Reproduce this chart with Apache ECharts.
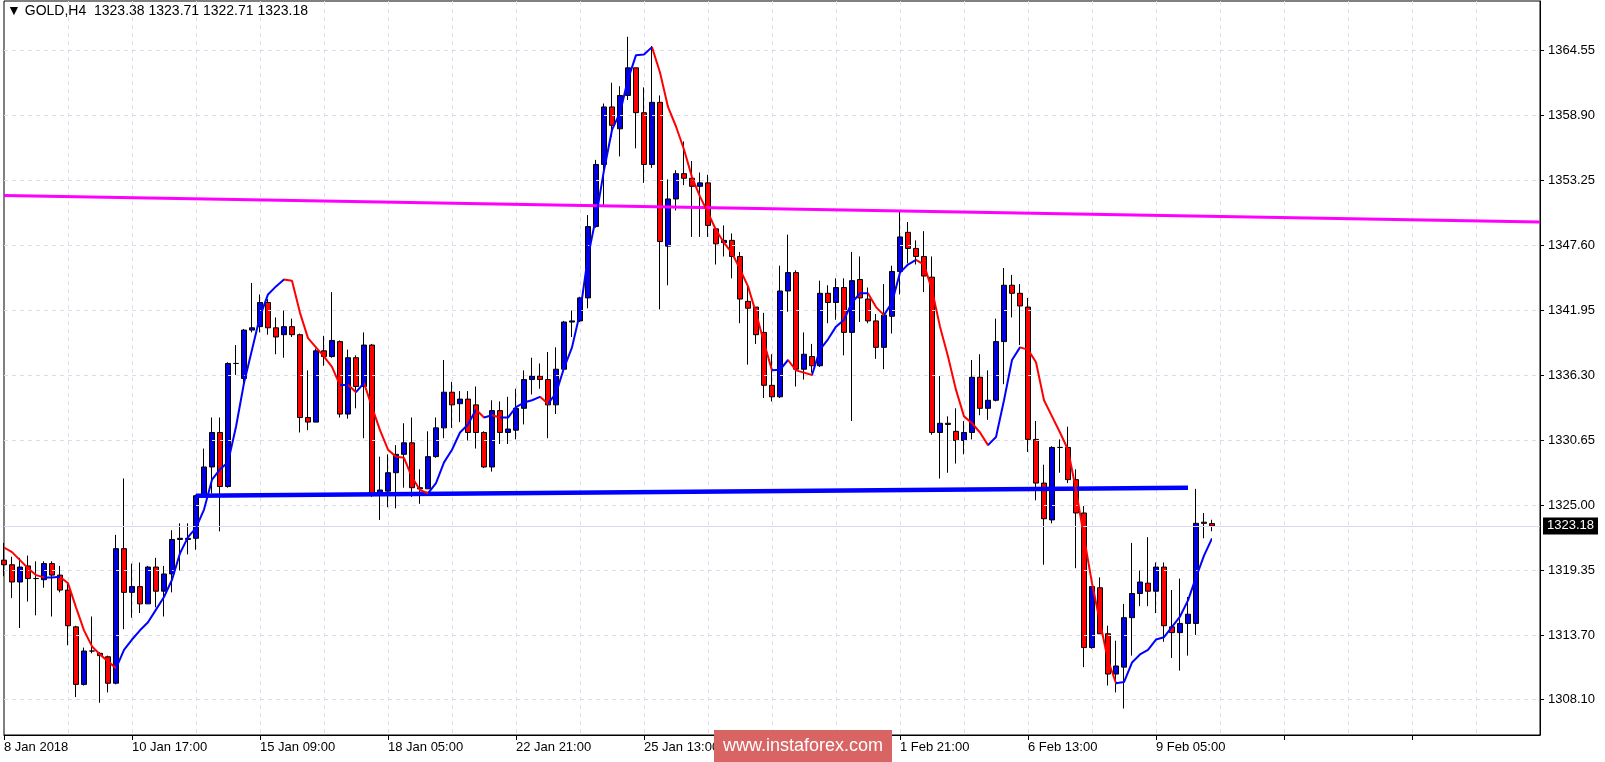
<!DOCTYPE html>
<html><head><meta charset="utf-8">
<script src="https://cdn.jsdelivr.net/npm/echarts@6/dist/echarts.min.js"></script>
<style>html,body{margin:0;padding:0;background:#fff}#c{width:1605px;height:762px}</style>
</head><body><div id="c"></div>
<script>
// [open, close, low, high]
const candles = [
[1320.2,1319.8,1318.8,1321.7],[1319.8,1318.3,1316.9,1320.5],[1318.3,1319.6,1314.3,1320.4],[1319.7,1318.6,1316.6,1320.6],
[1318.6,1318.6,1315.4,1320.1],[1318.5,1319.9,1317.8,1320.1],[1319.9,1318.9,1315.3,1320.1],[1318.9,1317.6,1317.4,1319.7],
[1317.6,1314.5,1312.8,1318.2],[1314.4,1309.4,1308.3,1314.5],[1309.4,1312.3,1309.3,1312.6],[1312.3,1312.3,1312.1,1315.3],
[1312.1,1311.9,1307.8,1312.2],[1311.8,1309.5,1308.7,1311.9],[1309.5,1321.2,1309.4,1322.4],[1321.2,1317.4,1314.2,1327.3],
[1317.4,1317.9,1315.2,1319.9],[1317.9,1316.4,1315.6,1320.0],[1316.4,1319.6,1316.4,1319.7],[1319.6,1317.5,1316.1,1320.4],
[1317.5,1319.0,1315.3,1319.7],[1319.0,1322.0,1317.4,1322.8],[1322.0,1322.1,1319.3,1323.4],[1322.1,1322.0,1320.7,1323.4],
[1322.1,1325.8,1321.1,1325.9],[1325.8,1328.3,1325.7,1329.9],[1328.3,1331.3,1326.0,1332.6],[1331.3,1326.6,1322.7,1332.6],
[1326.6,1337.3,1326.5,1337.4],[1337.3,1337.3,1336.3,1338.9],[1336.0,1340.2,1335.4,1340.3],[1340.2,1340.4,1340.0,1344.3],
[1340.5,1342.6,1340.0,1343.3],[1342.6,1340.4,1339.8,1342.9],[1340.4,1339.6,1338.1,1341.3],[1339.8,1340.5,1337.8,1341.9],
[1340.5,1339.8,1339.6,1341.2],[1339.8,1332.6,1331.3,1339.9],[1332.6,1332.2,1331.5,1336.7],[1332.2,1338.4,1332.2,1338.6],
[1338.4,1337.9,1337.1,1339.7],[1337.9,1339.3,1337.8,1343.5],[1339.2,1332.9,1332.6,1339.3],[1332.9,1337.8,1332.5,1338.5],
[1337.8,1335.3,1333.4,1338.0],[1335.3,1338.9,1330.8,1340.0],[1338.9,1326.0,1325.7,1339.0],[1326.0,1326.3,1323.7,1329.2],
[1326.2,1327.8,1324.8,1329.4],[1327.8,1329.4,1324.7,1330.2],[1329.4,1330.4,1326.5,1332.1],[1330.4,1326.5,1325.7,1332.6],
[1326.4,1326.5,1325.1,1328.1],[1326.4,1329.2,1326.4,1331.4],[1329.2,1331.7,1329.1,1332.6],[1331.7,1334.8,1330.8,1337.6],
[1334.8,1333.7,1331.7,1335.7],[1333.8,1334.2,1332.2,1334.9],[1334.2,1331.3,1330.6,1334.9],[1333.7,1331.3,1329.9,1335.3],
[1331.3,1328.3,1328.2,1331.4],[1328.3,1333.2,1327.9,1334.1],[1333.2,1331.3,1330.3,1334.0],[1331.3,1331.6,1330.3,1334.4],
[1331.5,1333.4,1330.7,1335.1],[1333.4,1335.9,1332.0,1336.7],[1335.9,1336.2,1334.6,1337.8],[1336.2,1335.9,1335.1,1337.3],
[1335.9,1333.7,1330.8,1338.3],[1333.7,1336.8,1332.9,1338.7],[1336.8,1340.9,1336.8,1341.0],[1340.9,1341.0,1339.6,1341.9],
[1341.0,1343.0,1340.9,1343.1],[1343.0,1349.2,1342.1,1350.2],[1349.2,1354.6,1349.1,1355.0],[1354.6,1359.6,1350.9,1359.9],
[1359.6,1358.0,1357.0,1361.7],[1357.7,1360.6,1355.3,1361.4],[1360.6,1363.0,1360.2,1365.7],[1363.0,1359.1,1356.0,1363.0],
[1359.1,1354.6,1353.0,1361.3],[1354.6,1360.0,1354.3,1364.9],[1360.0,1347.9,1342.0,1360.6],[1347.5,1351.6,1344.1,1353.3],
[1351.6,1353.8,1350.6,1354.1],[1353.8,1353.4,1352.8,1356.6],[1353.4,1352.7,1348.3,1354.9],[1352.7,1353.0,1348.3,1353.9],
[1353.0,1349.3,1348.3,1353.7],[1349.0,1347.7,1345.9,1349.1],[1347.8,1348.0,1346.6,1349.3],[1348.0,1346.6,1344.7,1348.6],
[1346.6,1342.9,1340.8,1347.0],[1342.7,1342.1,1337.2,1344.2],[1342.2,1339.8,1339.0,1342.2],[1340.0,1335.4,1334.3,1341.7],
[1335.4,1334.4,1334.0,1338.1],[1334.4,1343.6,1334.3,1345.8],[1343.6,1345.2,1341.8,1348.5],[1345.2,1336.8,1335.3,1345.4],
[1336.8,1338.1,1335.9,1340.0],[1337.9,1337.1,1336.5,1339.0],[1337.1,1343.4,1337.0,1344.5],[1343.4,1342.6,1340.8,1344.1],
[1342.6,1343.9,1341.1,1344.7],[1343.9,1340.0,1338.0,1344.7],[1340.0,1344.5,1332.3,1347.0],[1344.6,1343.0,1340.9,1346.6],
[1342.9,1341.0,1340.8,1343.9],[1341.0,1338.7,1337.7,1341.6],[1338.7,1341.5,1336.8,1344.2],[1341.4,1345.3,1339.9,1345.8],
[1345.3,1348.3,1343.3,1350.5],[1348.7,1347.3,1346.0,1349.6],[1347.3,1346.6,1345.9,1348.0],[1346.6,1344.9,1343.5,1348.8],
[1344.8,1331.3,1331.1,1346.6],[1331.3,1332.1,1327.3,1336.2],[1332.1,1332.0,1327.8,1332.7],[1331.4,1330.6,1328.6,1333.4],
[1330.6,1331.3,1329.4,1332.3],[1331.3,1336.1,1330.7,1337.6],[1336.1,1333.4,1332.8,1338.1],[1333.4,1334.1,1332.4,1336.7],
[1334.1,1339.2,1334.0,1341.2],[1339.2,1344.1,1335.5,1345.6],[1344.1,1343.4,1341.3,1345.0],[1343.4,1342.3,1338.9,1344.2],
[1342.2,1330.7,1329.6,1343.0],[1330.7,1326.9,1325.4,1332.3],[1326.9,1323.8,1319.8,1328.5],[1323.7,1330.0,1323.4,1330.1],
[1330.0,1330.0,1327.8,1330.7],[1330.0,1327.2,1326.9,1331.8],[1327.2,1324.3,1319.5,1328.1],[1324.3,1312.6,1310.9,1324.9],
[1312.6,1317.9,1312.5,1317.9],[1317.8,1313.8,1313.8,1318.7],[1313.8,1310.3,1309.3,1314.5],[1310.3,1311.0,1308.7,1313.2],
[1310.9,1315.2,1307.3,1316.4],[1315.2,1317.3,1311.9,1321.7],[1317.3,1318.3,1316.2,1319.3],[1318.2,1317.5,1316.2,1322.2],
[1317.5,1319.6,1315.6,1320.0],[1319.6,1314.5,1313.1,1320.0],[1314.4,1313.9,1311.7,1317.6],[1313.9,1314.7,1310.6,1318.6],
[1314.7,1315.5,1311.9,1317.0],[1314.7,1323.4,1313.7,1326.4],[1323.5,1323.4,1322.1,1324.3],[1323.38,1323.18,1322.71,1323.71]
];
const maLine = [
1321.3,1320.9,1320.2,1319.5,1318.9,1318.7,1318.7,1318.75,1318.2,1316.1,1314.1,1312.7,1312.0,1311.4,1310.8,1312.4,
1313.3,1314.1,1314.8,1315.9,1317.0,1318.5,1320.8,1322.2,1323.0,1324.6,1327.2,1328.1,1328.7,1331.8,1335.6,1338.5,
1341.4,1343.3,1344.0,1344.6,1344.5,1341.7,1339.5,1338.7,1337.9,1337.0,1335.4,1335.45,1334.8,1335.6,1333.5,1331.5,
1329.8,1329.2,1329.1,1327.4,1326.3,1326.0,1326.9,1328.7,1329.8,1331.3,1332.0,1333.3,1332.6,1332.8,1332.6,1332.6,
1333.5,1333.9,1334.1,1334.4,1333.8,1334.7,1336.9,1338.7,1341.7,1346.6,1350.0,1354.1,1357.6,1359.1,1362.0,1364.1,
1364.15,1364.8,1362.6,1359.6,1357.9,1355.9,1353.5,1351.8,1350.4,1348.9,1347.8,1346.9,1345.5,1344.0,1341.7,1339.1,
1336.7,1336.75,1337.6,1336.7,1336.5,1336.3,1338.5,1339.4,1340.5,1341.1,1342.6,1343.4,1343.4,1342.2,1341.5,1342.6,
1345.2,1345.9,1346.3,1345.9,1343.7,1340.5,1337.9,1335.0,1332.7,1332.1,1331.3,1330.2,1330.9,1334.1,1337.6,1338.7,
1338.5,1337.4,1334.1,1332.7,1331.3,1329.8,1326.3,1322.2,1318.2,1314.8,1311.5,1309.5,1309.6,1311.3,1312.0,1312.4,
1313.3,1313.5,1314.4,1315.3,1316.7,1318.7,1320.6,1322.1
];
const trendMagenta = [[0,1351.9],[192,1349.6]];
const levelBlue = [[24,1325.8],[148,1326.5]];
const yTicks = [1364.55,1358.90,1353.25,1347.60,1341.95,1336.30,1330.65,1325.00,1319.35,1313.70,1308.10];
const tickLabels = ["8 Jan 2018","10 Jan 17:00","15 Jan 09:00","18 Jan 05:00","22 Jan 21:00","25 Jan 13:00","30 Jan 05:00","1 Feb 21:00","6 Feb 13:00","9 Feb 05:00"];
const lastPrice = 1323.18;
const header = "\u25BC GOLD,H4  1323.38 1323.71 1322.71 1323.18";

const N = 193;
const cats = new Array(N).fill('');
tickLabels.forEach((t,k)=>{cats[k*16]=t;});
const pieces = [];
for (let i=1;i<maLine.length;i++){
  pieces.push({gt:i-1,lte:i,color: maLine[i]>=maLine[i-1] ? '#0000ff' : '#ff0000'});
}
pieces.unshift({gte:-1,lte:0,color:'#0000ff'});
const FONT = 'Liberation Sans';
const chart = echarts.init(document.getElementById('c'));
chart.setOption({
  animation:false,
  backgroundColor:'#ffffff',
  grid:{left:4,right:65,top:1,bottom:27,show:true,borderColor:'#000',borderWidth:1,backgroundColor:'#fff'},
  xAxis:{type:'category',data:cats,boundaryGap:false,
    axisLine:{lineStyle:{color:'#000'}},
    axisTick:{interval:(i)=>i%16===0,length:5,lineStyle:{color:'#000'}},
    axisLabel:{interval:(i)=>i%16===0,align:'left',margin:6,color:'#000',fontFamily:FONT,fontSize:13,showMaxLabel:false},
    splitLine:{show:true,interval:(i)=>i%8===0&&i>0,lineStyle:{color:'#dcdcf0',type:[4,4]}}},
  yAxis:{type:'value',position:'right',min:1305.0,max:1368.81,scale:true,
    axisLine:{show:true,lineStyle:{color:'#000'}},
    axisTick:{show:true,customValues:yTicks,length:4,lineStyle:{color:'#000'}},
    axisLabel:{customValues:yTicks,formatter:(v)=>v.toFixed(2),color:'#000',fontFamily:FONT,fontSize:13,margin:8},
    splitLine:{show:false}},
  visualMap:{type:'piecewise',show:false,dimension:0,seriesIndex:3,pieces:pieces},
  series:[
    {type:'candlestick',data:candles,barWidth:5,silent:true,
      itemStyle:{color:'#0000e0',color0:'#ff0000',borderColor:'#000',borderColor0:'#000',borderWidth:1},
      markLine:{silent:true,symbol:'none',animation:false,
        data:yTicks.map(v=>({yAxis:v,label:{show:false},lineStyle:{color:'#dcdcf0',type:[4,4],width:1}})).concat([
          {yAxis:lastPrice,lineStyle:{color:'#d8d8f4',type:'solid',width:1},
           label:{show:true,position:'end',distance:3,formatter:lastPrice.toFixed(2),color:'#fff',backgroundColor:'#000',
             fontFamily:FONT,fontSize:13,padding:[2,4,2,4]}}])},
      z:3},
    {type:'line',data:trendMagenta,symbol:'none',lineStyle:{color:'#ff00ff',width:3},silent:true,z:4},
    {type:'line',data:levelBlue,symbol:'none',lineStyle:{color:'#0000ff',width:4.5},silent:true,z:4},
    {type:'line',data:maLine,symbol:'none',lineStyle:{width:2},silent:true,z:5}
  ],
  graphic:[
    {type:'text',left:7,top:4,style:{text:header,fill:'#000',font:'14px '+FONT}},
    {type:'rect',z:100,shape:{x:714,y:730,width:178,height:32},style:{fill:'#d96464'}},
    {type:'text',z:101,x:803,y:746,style:{text:'www.instaforex.com',fill:'#fff',font:'18px '+FONT,textAlign:'center',textVerticalAlign:'middle'}}
  ]
});
</script></body></html>
